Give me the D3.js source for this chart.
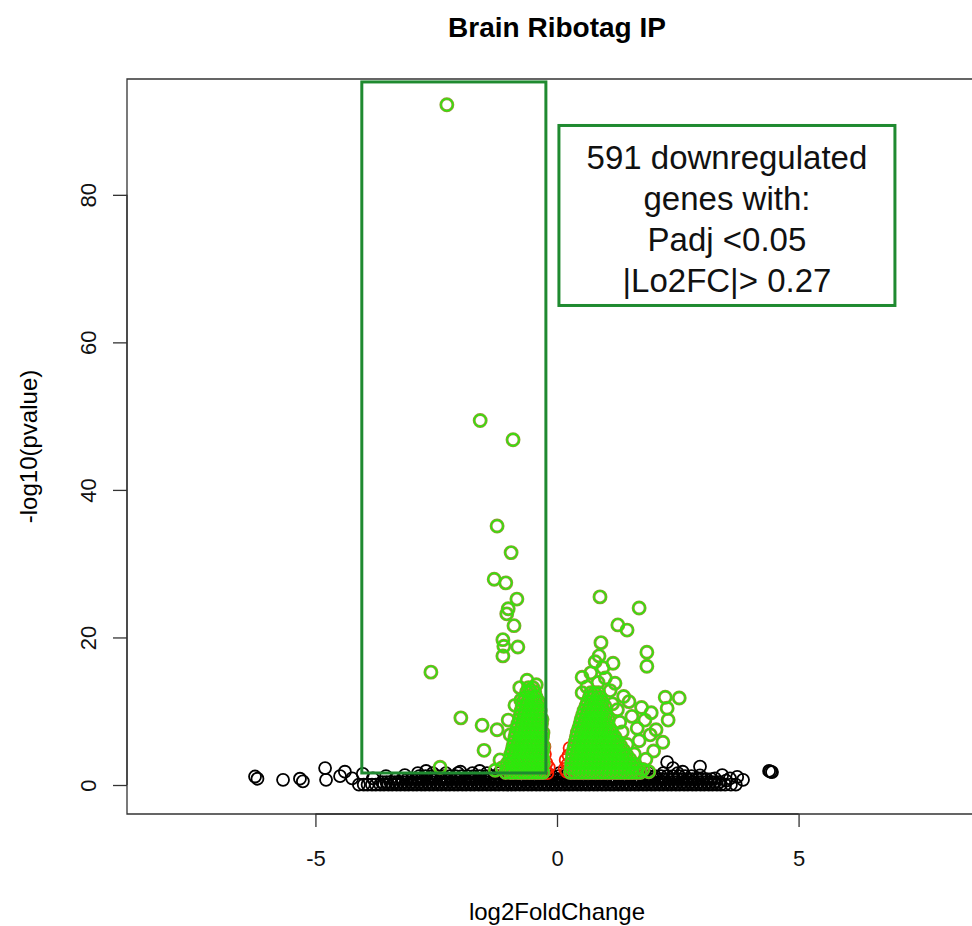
<!DOCTYPE html>
<html>
<head>
<meta charset="utf-8">
<script src="https://cdn.jsdelivr.net/npm/d3@7"></script>
<style>
body { margin: 0; background: #fff; }
text { font-family: "Liberation Sans", Arial, Helvetica, sans-serif; }
</style>
</head>
<body>
<div id="chart-area"></div>
<script>
const FIGURE = { WIDTH: 972, HEIGHT: 926 };
const PLOT = { LEFT: 127, TOP: 79, RIGHT: 987, BOTTOM: 814 };

const chartTitle = "Brain Ribotag IP";
const xTitle = "log2FoldChange";
const yTitle = "-log10(pvalue)";
const xDomain = [-8.9, 8.9];
const yDomain = [-3.93, 95.7];
const xTicks = [-5, 0, 5];
const yTicks = [0, 20, 40, 60, 80];

// highlighted region (log2FC range, -log10 p range)
const boxLfc = [-4.04, -0.23];
const boxLogP = [1.63, 95.3];

const noteLines = ["591 downregulated", "genes with:", "Padj <0.05", "|Lo2FC|> 0.27"];
const noteAt = [0.04, 89.4];

// not significant genes: dense band as rows [logP, [log2FC...]]
const blackRows = [
  [0.05, [-4.1,-4.0,-3.92,-3.83,-3.75,-3.66,-3.58,-3.49,-3.41,-3.32,-3.24,-3.15,-3.07,-2.98,-2.9,-2.81,
          -2.73,-2.64,-2.56,-2.47,-2.39,-2.3,-2.22,-2.13,-2.05,-1.96,-1.88,-1.79,-1.71,-1.62,-1.54,-1.45,
          -1.37,-1.28,-1.2,-1.11,-1.03,-0.94,-0.86,-0.77,-0.69,-0.6,-0.52,-0.43,-0.35,-0.26,-0.18,-0.09,
          -0.01,0.08,0.16,0.25,0.33,0.42,0.5,0.59,0.67,0.76,0.84,0.93,1.01,1.1,1.18,1.27,1.35,1.44,1.52,
          1.61,1.69,1.78,1.86,1.95,2.03,2.12,2.2,2.29,2.37,2.46,2.54,2.63,2.71,2.8,2.88,2.97,3.05,3.14,
          3.22,3.31,3.39,3.48,3.6,3.7]],
  [0.4, [-3.62,-3.53,-3.45,-3.36,-3.28,-3.19,-3.11,-3.02,-2.94,-2.85,-2.77,-2.68,-2.6,-2.51,-2.43,-2.34,
         -2.26,-2.17,-2.09,-2.0,-1.92,-1.83,-1.75,-1.66,-1.58,-1.49,-1.41,-1.32,-1.24,-1.15,-1.07,-0.98,
         -0.9,-0.81,-0.73,-0.64,-0.56,-0.47,-0.39,-0.3,-0.22,-0.13,-0.05,0.04,0.12,0.21,0.29,0.38,0.46,
         0.55,0.63,0.72,0.8,0.89,0.97,1.06,1.14,1.23,1.31,1.4,1.48,1.57,1.65,1.74,1.82,1.91,1.99,2.08,
         2.16,2.25,2.33,2.42,2.5,2.59,2.67,2.76,2.84,2.93,3.01,3.1,3.18,3.27,3.36]],
  [0.8, [-3.2,-3.1,-3.0,-2.9,-2.8,-2.7,-2.6,-2.5,-2.4,-2.3,-2.2,-2.1,-2.0,-1.9,-1.8,-1.7,-1.6,-1.5,
         -1.4,-1.3,-1.2,-1.1,-1.0,-0.9,-0.8,-0.7,-0.6,-0.5,-0.4,-0.3,-0.2,-0.1,0.0,0.1,0.2,0.3,0.4,0.5,
         0.6,0.7,0.8,0.9,1.0,1.1,1.2,1.3,1.4,1.5,1.6,1.7,1.8,1.9,2.0,2.1,2.2,2.3,2.4,2.5,2.6,2.7,2.8,
         2.9,3.0,3.1,3.2]],
  [1.2, [-2.85,-2.72,-2.6,-2.47,-2.35,-2.22,-2.1,-1.97,-1.85,-1.72,-1.6,-1.47,-1.35,-1.22,-1.1,-0.97,
         -0.85,-0.72,-0.6,-0.47,-0.35,-0.22,-0.1,0.03,0.15,0.28,0.4,0.53,0.65,0.78,0.9,1.03,1.15,1.28,
         1.4,1.53,1.65,1.78,1.9,2.03,2.15,2.28,2.4,2.53,2.65,2.78]],
  [1.6, [-2.3,-2.05,-1.75,-1.45,-1.2,-0.95,-0.7,-0.45,-0.2,0.05,0.3,0.55,0.85,1.1,1.35,1.65,1.9,2.2,2.5]]
];

// isolated not significant genes
const blackPts = [
  [-6.25,1.15],[-6.2,0.85],[-5.67,0.7],[-5.32,0.85],[-5.26,0.5],[-4.78,0.7],[-4.8,2.3],[-4.49,1.2],
  [-4.39,1.8],[-4.24,0.9],[-4.02,1.5],[-3.81,0.9],[-3.54,1.2],[-3.35,0.8],
  [-3.15,1.35],[-2.88,1.6],[-2.71,1.9],[-2.57,1.6],[-2.0,1.8],[-1.6,1.9],
  [2.96,1.3],[2.96,2.5],[2.28,3.1],[2.4,2.3],[2.6,1.8],[3.27,0.9],[3.42,1.35],[3.5,0.6],
  [3.58,0.9],[3.73,1.1],[3.85,0.7],[4.39,1.9],[4.45,1.75],[4.42,1.8]
];

// padj < 0.05 but small fold change
const redPts = [
  [-0.24,2.0],[-0.22,3.0],[-0.25,4.2],[-0.2,1.6],[-0.17,2.4],[-0.26,5.2],
  [0.2,1.8],[0.22,2.8],[0.24,4.0],[0.16,2.2],[0.26,5.0],[0.18,3.4]
];

// padj < 0.05 and |log2FC| > 0.27, dense part given as rows [logP, [log2FC...]]
const leftDenseRows = [
  [1.7, [-1.06,-0.97,-0.9,-0.81,-0.74,-0.66,-0.58,-0.51,-0.43,-0.36,-0.29]],
  [2.3, [-1.01,-0.93,-0.85,-0.78,-0.7,-0.62,-0.55,-0.47,-0.4,-0.32]],
  [2.9, [-1.03,-0.95,-0.88,-0.79,-0.72,-0.64,-0.56,-0.49,-0.41,-0.33,-0.28]],
  [3.5, [-0.98,-0.9,-0.82,-0.74,-0.66,-0.59,-0.51,-0.43,-0.35,-0.29]],
  [4.1, [-0.96,-0.87,-0.79,-0.71,-0.63,-0.55,-0.47,-0.39,-0.31]],
  [4.7, [-0.93,-0.85,-0.77,-0.69,-0.6,-0.53,-0.45,-0.37,-0.29]],
  [5.3, [-0.91,-0.83,-0.75,-0.66,-0.58,-0.5,-0.42,-0.34,-0.28]],
  [5.9, [-0.89,-0.8,-0.72,-0.64,-0.56,-0.48,-0.4,-0.32]],
  [6.5, [-0.87,-0.78,-0.7,-0.62,-0.54,-0.46,-0.38,-0.3]],
  [7.1, [-0.85,-0.76,-0.68,-0.6,-0.52,-0.44,-0.36,-0.29]],
  [7.7, [-0.83,-0.74,-0.66,-0.58,-0.5,-0.42,-0.34]],
  [8.3, [-0.81,-0.72,-0.64,-0.56,-0.48,-0.4,-0.32]],
  [8.9, [-0.78,-0.7,-0.62,-0.54,-0.46,-0.38,-0.31]],
  [9.5, [-0.76,-0.68,-0.6,-0.52,-0.44,-0.36]],
  [10.1, [-0.74,-0.66,-0.58,-0.5,-0.42,-0.35]],
  [10.7, [-0.72,-0.64,-0.56,-0.48,-0.4]],
  [11.3, [-0.7,-0.61,-0.53,-0.45,-0.38]],
  [11.9, [-0.66,-0.58,-0.5,-0.43]],
  [12.6, [-0.63,-0.54,-0.46]],
  [13.2, [-0.59,-0.5]]
];

const rightDenseRows = [
  [1.7, [0.28,0.36,0.44,0.52,0.6,0.68,0.76,0.84,0.92,1.0,1.08,1.16,1.24,1.32,1.4,1.48,1.56,1.64,1.72]],
  [2.3, [0.29,0.37,0.45,0.53,0.61,0.69,0.77,0.85,0.93,1.01,1.09,1.17,1.25,1.33,1.41,1.49,1.57,1.65]],
  [2.9, [0.3,0.38,0.46,0.54,0.62,0.7,0.78,0.86,0.94,1.02,1.1,1.18,1.26,1.34,1.42,1.5,1.58]],
  [3.5, [0.31,0.39,0.47,0.55,0.63,0.71,0.79,0.87,0.95,1.03,1.11,1.19,1.27,1.35,1.43,1.51]],
  [4.1, [0.32,0.4,0.48,0.56,0.64,0.72,0.8,0.88,0.96,1.04,1.12,1.2,1.28,1.36,1.44]],
  [4.7, [0.34,0.42,0.5,0.58,0.66,0.74,0.82,0.9,0.98,1.06,1.14,1.22,1.3,1.38]],
  [5.3, [0.36,0.44,0.52,0.6,0.68,0.76,0.84,0.92,1.0,1.08,1.16,1.24,1.32]],
  [5.9, [0.38,0.46,0.54,0.62,0.7,0.78,0.86,0.94,1.02,1.1,1.18,1.26]],
  [6.5, [0.4,0.48,0.56,0.64,0.72,0.8,0.88,0.96,1.04,1.12,1.2]],
  [7.1, [0.42,0.5,0.58,0.66,0.74,0.82,0.9,0.98,1.06,1.14]],
  [7.7, [0.45,0.53,0.61,0.69,0.77,0.85,0.93,1.01,1.09]],
  [8.3, [0.48,0.56,0.64,0.72,0.8,0.88,0.96,1.04]],
  [8.9, [0.5,0.58,0.66,0.74,0.82,0.9,0.98,1.06]],
  [9.5, [0.53,0.61,0.69,0.77,0.85,0.93,1.01]],
  [10.1, [0.56,0.64,0.72,0.8,0.88,0.96]],
  [10.7, [0.6,0.68,0.76,0.84,0.92,0.99]],
  [11.3, [0.63,0.71,0.79,0.87,0.94]],
  [11.9, [0.67,0.75,0.83,0.9]],
  [12.5, [0.7,0.78,0.86]]
];

// scattered significant genes
const greenPts = [
  [-2.28,92.2],[-1.59,49.4],[-0.91,46.8],[-1.24,35.1],[-0.95,31.5],[-1.30,27.9],[-1.06,27.4],
  [-0.83,25.2],[-1.01,23.9],[-1.04,23.2],[-0.89,21.6],[-1.12,19.7],[-1.10,18.8],[-0.81,18.7],
  [-1.12,17.5],[-2.61,15.3],[-1.99,9.1],[-1.55,8.1],[-1.24,7.5],[-1.51,4.7],[-2.42,2.4],
  [-0.77,13.2],[-0.56,12.9],[-0.43,13.6],[-0.87,10.8],[-0.75,11.5],[-1.01,8.8],[-0.97,6.8],
  [-0.93,4.5],[-1.18,3.4],[-1.14,2.3],[-1.28,2.0],[-0.62,14.2],
  [0.89,25.5],[1.70,24.0],[1.26,21.7],[1.45,21.0],[0.91,19.3],[1.86,18.0],[1.86,16.1],
  [0.87,17.5],[0.79,16.7],[1.16,16.5],[0.95,15.9],[0.52,14.6],[1.20,13.8],[0.52,12.5],
  [2.24,11.9],[2.53,11.8],[2.28,10.4],[2.30,8.8],[1.49,11.3],[1.82,8.8],[1.30,8.5],
  [2.19,5.8],[1.84,3.5],[1.93,6.8],[1.66,7.7],[1.0,14.5],[0.7,15.2],[0.62,13.3],[1.1,12.8],
  [1.25,10.2],[1.55,9.3],[1.7,6.0],[1.45,5.5],[1.6,4.2],[2.0,4.6],[1.75,10.5],[1.95,9.8],
  [2.05,7.5],[1.38,12.0],[0.85,13.9],[1.15,11.0],[1.35,7.2],[1.55,2.6],[1.78,2.1],[1.9,1.8]
];

const rowsToPts = rows => rows.flatMap(r => r[1].map(v => [v, r[0]]));
const nsPts = rowsToPts(blackRows).concat(blackPts);
const sigPts = rowsToPts(leftDenseRows).concat(rowsToPts(rightDenseRows), greenPts);

let x = d3.scaleLinear().domain(xDomain).range([PLOT.LEFT, PLOT.RIGHT]);
let y = d3.scaleLinear().domain(yDomain).range([PLOT.BOTTOM, PLOT.TOP]);

let svg = d3.select("#chart-area")
    .append("svg")
        .attr("width", FIGURE.WIDTH)
        .attr("height", FIGURE.HEIGHT);

// clip to plot region
svg.append("clipPath").attr("id", "clip")
    .append("rect")
        .attr("x", PLOT.LEFT).attr("y", PLOT.TOP)
        .attr("width", PLOT.RIGHT - PLOT.LEFT).attr("height", PLOT.BOTTOM - PLOT.TOP);

let plot = svg.append("g").attr("clip-path", "url(#clip)");

const R = 6;

function rings(data, color, width) {
    plot.append("g")
        .selectAll("circle")
        .data(data)
        .enter()
        .append("circle")
            .attr("cx", d => x(d[0]))
            .attr("cy", d => y(d[1]))
            .attr("r", R)
            .attr("fill", "none")
            .attr("stroke", color)
            .attr("stroke-width", width);
}

rings(nsPts, "#000", 1.8);
rings(redPts, "#ff1a00", 1.8);
rings(sigPts, "#8e9e34", 2.9);
rings(sigPts, "#2ee80c", 1.3);

// highlight rectangle
plot.append("rect")
    .attr("x", x(boxLfc[0]))
    .attr("y", y(boxLogP[1]))
    .attr("width", x(boxLfc[1]) - x(boxLfc[0]))
    .attr("height", y(boxLogP[0]) - y(boxLogP[1]))
    .attr("fill", "none")
    .attr("stroke", "#1f8a30")
    .attr("stroke-width", 3);

// note box
let note = svg.append("g")
    .attr("transform", `translate(${x(noteAt[0])}, ${y(noteAt[1])})`);
note.append("rect")
    .attr("x", 0).attr("y", 0)
    .attr("width", 336).attr("height", 180)
    .attr("fill", "#fff")
    .attr("stroke", "#1f8a30")
    .attr("stroke-width", 3);
note.selectAll("text")
    .data(noteLines)
    .enter()
    .append("text")
        .attr("x", 168)
        .attr("y", (d, i) => 44 + i * 41)
        .attr("text-anchor", "middle")
        .attr("font-size", 33)
        .attr("fill", "#111")
        .text(d => d);

// frame
svg.append("path")
    .attr("d", `M${PLOT.RIGHT},${PLOT.TOP}H${PLOT.LEFT}V${PLOT.BOTTOM}H${PLOT.RIGHT}`)
    .attr("fill", "none")
    .attr("stroke", "#333")
    .attr("stroke-width", 1.3);

// axes
let xAxis = d3.axisBottom(x).tickValues(xTicks).tickSize(13).tickPadding(23).tickFormat(d => String(d));
svg.append("g")
    .attr("class", "x-axis")
    .attr("transform", `translate(0, ${PLOT.BOTTOM})`)
    .call(xAxis)
    .call(g => g.select(".domain").attr("d", `M${x(xTicks[0])},0H${x(xTicks[2])}`));

let yAxis = d3.axisLeft(y).tickValues(yTicks).tickSize(14).tickFormat(d => String(d));
svg.append("g")
    .attr("class", "y-axis")
    .attr("transform", `translate(${PLOT.LEFT}, 0)`)
    .call(yAxis)
    .call(g => g.select(".domain").attr("d", `M0,${y(0)}V${y(80)}`));

svg.selectAll(".x-axis path, .x-axis line, .y-axis path, .y-axis line")
    .attr("stroke", "#333").attr("stroke-width", 1.3);
svg.selectAll(".x-axis text")
    .attr("font-size", 22).attr("fill", "#111")
    .attr("font-family", "'Liberation Sans', Arial, sans-serif");
svg.selectAll(".y-axis .tick text")
    .attr("font-size", 22).attr("fill", "#111")
    .attr("font-family", "'Liberation Sans', Arial, sans-serif")
    .attr("text-anchor", "middle")
    .attr("transform", "rotate(-90)")
    .attr("x", 0).attr("y", -31).attr("dy", 0);

// titles
svg.append("text")
    .attr("x", (PLOT.LEFT + PLOT.RIGHT) / 2)
    .attr("y", 37)
    .attr("text-anchor", "middle")
    .attr("font-size", 28)
    .attr("font-weight", "bold")
    .text(chartTitle);

svg.append("text")
    .attr("x", (PLOT.LEFT + PLOT.RIGHT) / 2)
    .attr("y", 920)
    .attr("text-anchor", "middle")
    .attr("font-size", 24)
    .text(xTitle);

svg.append("text")
    .attr("transform", `translate(37, ${(PLOT.TOP + PLOT.BOTTOM) / 2}) rotate(-90)`)
    .attr("text-anchor", "middle")
    .attr("font-size", 24)
    .text(yTitle);
</script>
</body>
</html>
